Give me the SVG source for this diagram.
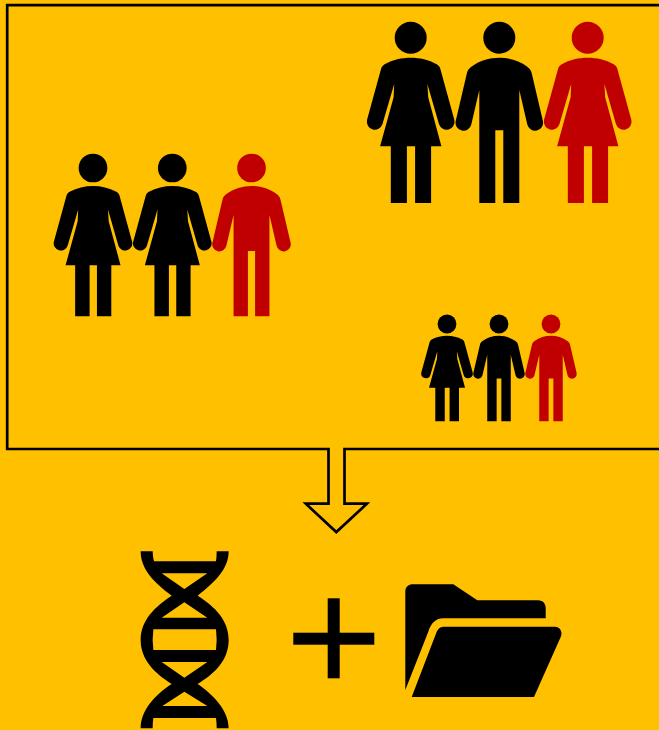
<svg xmlns="http://www.w3.org/2000/svg" width="659" height="730" viewBox="0 0 659 730">
<style>
.k{fill:#000}.r{fill:#C00000}
.line{fill:none;stroke:#000;stroke-width:2.700}
</style>
<defs>
<g id="woman">
<circle cx="0" cy="0" r="16"/>
<path d="M0 20C9 20 18 22 26 26.500C28 27.700 29 29 29.600 31L43.700 82.400A8 8 0 0 1 28.300 86.600L16.700 46.300L17.500 59.500L30.700 108.500H20.400V165.300H4.400V108.500H-3.800V165.300H-19.900V108.500H-30.600L-17.100 59.500L-16.500 46.300L-28.300 86.600A8 8 0 0 1 -43.700 82.400L-29.600 31C-29 29 -28 27.700 -26 26.500C-18 22 -9 20 0 20Z"/>
</g>
<g id="man">
<circle cx="0" cy="0" r="16"/>
<path d="M0 20C10 20 20 23 28 29C30 30.500 31.500 32 32.300 35L43.600 83.200A8 8 0 0 1 28 86.800L20 52.300V165.300H4V92.500H-4V165.300H-20V52.300L-28 86.800A8 8 0 0 1 -43.600 83.200L-32.300 35C-31.500 32 -30 30.500 -28 29C-20 23 -10 20 0 20Z"/>
</g>
</defs>
<rect width="659" height="730" fill="#FFC000"/>
<g id="connectors">
<path id="box-arrow" class="line" d="M680 5.200H7.200V449H328.500V503.700H305.800L336.300 532.100L366.900 503.700H344.500V449H680"/>
</g>
<g id="group-top">
<use id="top-woman-1" href="#woman" class="k" transform="translate(410.700 37.700)"/>
<use id="top-man" href="#man" class="k" transform="translate(499.300 37.700)"/>
<use id="top-woman-2" href="#woman" class="r" transform="translate(587.700 37.700)"/>
</g>
<g id="group-left">
<use id="left-woman-1" href="#woman" class="k" transform="translate(93 168) scale(.897)"/>
<use id="left-woman-2" href="#woman" class="k" transform="translate(172.300 168) scale(.897)"/>
<use id="left-man" href="#man" class="r" transform="translate(251.500 168) scale(.897)"/>
</g>
<g id="group-small">
<use id="small-woman" href="#woman" class="k" transform="translate(447 324) scale(.588)"/>
<use id="small-man-1" href="#man" class="k" transform="translate(499 324) scale(.588)"/>
<use id="small-man-2" href="#man" class="r" transform="translate(551 324) scale(.588)"/>
</g>
<g id="dna">
<path transform="translate(130 540) scale(.33333)" fill-rule="evenodd" d="M32 34H68Q68 52 72 64H258Q260 52 260 34H296C296 90 250 130 203 167C255 200 296 240 296 300C296 360 255 400 203 432C250 465 296 510 296 565H260Q260 548 258 534H70Q68 548 68 565H32C32 510 75 465 125 432C75 400 32 360 32 300C32 240 75 200 125 167C75 130 32 90 32 34ZM95 100H232L163 147ZM163 187L232 233H95ZM70 268H258Q262 300 258 330H70Q66 300 70 268ZM95 366H232L163 413ZM163 455L232 498H97Z"/>
</g>
<g id="plus">
<rect x="327.700" y="598.300" width="12" height="80"/>
<rect x="293.300" y="632.700" width="81" height="12"/>
</g>
<g id="folder">
<path d="M405.300 690V591.700C405.300 586.500 409 584.300 412.700 584.300H453.300L477.300 600.300H538.300C543 600.300 545.700 604 545.700 607.700V618.300H443.300C436 618.300 431 623 428.300 631.700Z"/>
<path d="M411.700 697L436.700 631.700C438.500 628 441 626.700 444.700 626.700H555C560 626.700 563 632 560.700 637L534 697Z"/>
</g>
</svg>
